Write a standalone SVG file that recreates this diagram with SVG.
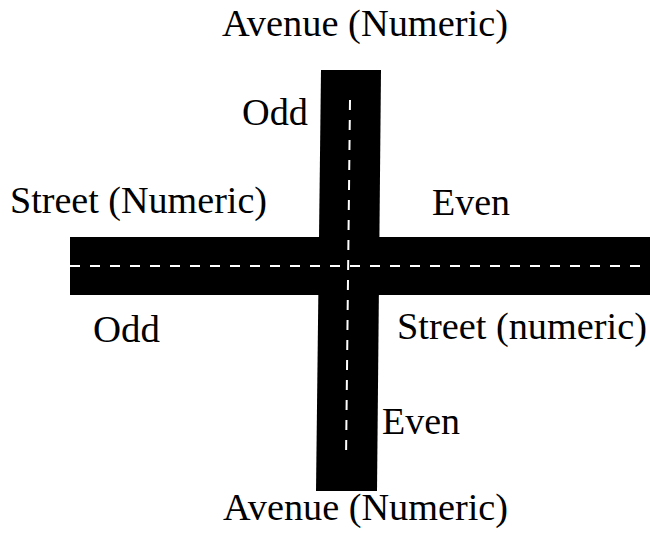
<svg xmlns="http://www.w3.org/2000/svg" width="650" height="533" viewBox="0 0 650 533">
<style>
.road{fill:#000}
.dash{fill:none;stroke:#fff;stroke-width:2;stroke-dasharray:10 10}
.lbl{font-family:"Liberation Serif","Times New Roman","DejaVu Serif",serif;font-size:37px;fill:#000}
</style>
<rect width="650" height="533" fill="#fff"/>
<g id="roads">
<polygon id="avenue-road" class="road" points="321,70 381,70 377,491 316,491"/>
<rect id="street-road" class="road" x="70" y="237" width="580" height="58"/>
</g>
<g id="connectors">
<line class="dash" x1="70" y1="266" x2="650" y2="266"/>
<line class="dash" x1="350" y1="100" x2="346" y2="460"/>
</g>
<g id="label-avenue-top"><text class="lbl" x="222" y="36" textLength="286" lengthAdjust="spacingAndGlyphs">Avenue (Numeric)</text></g>
<g id="label-odd-top"><text class="lbl" x="242" y="125" textLength="66" lengthAdjust="spacingAndGlyphs">Odd</text></g>
<g id="label-street-left"><text class="lbl" x="10" y="213" textLength="257" lengthAdjust="spacingAndGlyphs">Street (Numeric)</text></g>
<g id="label-even-top"><text class="lbl" x="432" y="215" textLength="78" lengthAdjust="spacingAndGlyphs">Even</text></g>
<g id="label-odd-bottom"><text class="lbl" x="93" y="342" textLength="67" lengthAdjust="spacingAndGlyphs">Odd</text></g>
<g id="label-street-right"><text class="lbl" x="397" y="339" textLength="250" lengthAdjust="spacingAndGlyphs">Street (numeric)</text></g>
<g id="label-even-bottom"><text class="lbl" x="382" y="434" textLength="78" lengthAdjust="spacingAndGlyphs">Even</text></g>
<g id="label-avenue-bottom"><text class="lbl" x="223" y="520" textLength="285" lengthAdjust="spacingAndGlyphs">Avenue (Numeric)</text></g>
</svg>
